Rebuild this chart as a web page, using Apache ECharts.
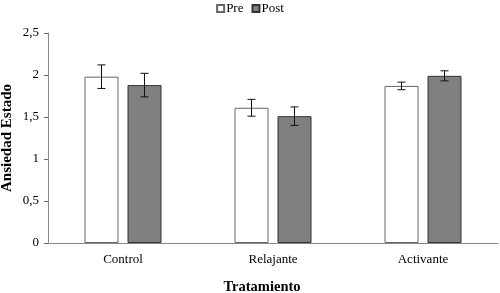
<!DOCTYPE html>
<html>
<head>
<meta charset="utf-8">
<script src="https://cdn.jsdelivr.net/npm/echarts@6/dist/echarts.min.js"></script>
<style>
  html, body { margin: 0; padding: 0; background: #fff; }
  #chart { width: 500px; height: 293px; }
</style>
</head>
<body>
<div id="chart"></div>
<script>
// datos
let tratamientos = ['Control', 'Relajante', 'Activante'];
let pre = [1.98, 1.61, 1.87];
let post = [1.88, 1.51, 1.99];
let errPre = [0.14, 0.10, 0.045];
let errPost = [0.14, 0.11, 0.06];

let fuente = 'Liberation Serif';
let anchoBarra = 34;
let separacion = 9;

// barras de error (desplazadas a la posicion de cada barra)
let errorBars = (valores, errores, lado) => {
    return {
        type: 'custom',
        z: 5,
        data: valores.map((v, i) => [i, v - errores[i], v + errores[i]]),
        renderItem: (params, api) => {
            let desp = lado * (anchoBarra + separacion) / 2;
            let bajo = api.coord([api.value(0), api.value(1)]);
            let alto = api.coord([api.value(0), api.value(2)]);
            let x = bajo[0] + desp;
            let c = 4;
            let estilo = { stroke: '#111', lineWidth: 1 };
            return {
                type: 'group',
                children: [
                    { type: 'line', shape: { x1: x, y1: alto[1], x2: x, y2: bajo[1] }, style: estilo },
                    { type: 'line', shape: { x1: x - c, y1: alto[1], x2: x + c, y2: alto[1] }, style: estilo },
                    { type: 'line', shape: { x1: x - c, y1: bajo[1], x2: x + c, y2: bajo[1] }, style: estilo }
                ]
            };
        },
        silent: true
    };
};

let chart = echarts.init(document.getElementById('chart'));

let option = {
    animation: false,
    textStyle: { fontFamily: fuente, color: '#000' },
    legend: {
        top: -3,
        left: 'center',
        itemWidth: 7,
        itemHeight: 7,
        itemGap: 8,
        icon: 'rect',
        textStyle: { fontFamily: fuente, fontSize: 13, color: '#000', padding: [0, 0, 0, -3] },
        data: ['Pre', 'Post']
    },
    grid: {
        left: 48,
        right: 2,
        top: 33,
        bottom: 50,
        containLabel: false,
        outerBoundsMode: 'none'
    },
    xAxis: {
        type: 'category',
        data: tratamientos,
        name: 'Tratamiento',
        nameLocation: 'middle',
        nameGap: 37,
        nameMoveOverlap: false,
        nameTextStyle: { fontFamily: fuente, fontSize: 14.5, fontWeight: 'bold', color: '#000', padding: [0, 22, 0, 0] },
        axisLine: { lineStyle: { color: '#888', width: 1 } },
        axisTick: { inside: true, length: 3, lineStyle: { color: '#666' } },
        axisLabel: { fontFamily: fuente, fontSize: 13, color: '#000', margin: 10 }
    },
    yAxis: {
        type: 'value',
        min: 0,
        max: 2.5,
        interval: 0.5,
        name: 'Ansiedad Estado',
        nameLocation: 'middle',
        nameGap: 33,
        nameMoveOverlap: false,
        nameTextStyle: { fontFamily: fuente, fontSize: 15, fontWeight: 'bold', color: '#000' },
        axisLine: { show: true, lineStyle: { color: '#888', width: 1 } },
        axisTick: { show: true, length: 4, lineStyle: { color: '#666' } },
        splitLine: { show: false },
        axisLabel: {
            fontFamily: fuente,
            fontSize: 13,
            color: '#000',
            margin: 9,
            formatter: (v) => String(v).replace('.', ',')
        }
    },
    series: [{
        name: 'Pre',
        type: 'bar',
        data: pre,
        barWidth: anchoBarra,
        barGap: (separacion / anchoBarra * 100) + '%',
        itemStyle: { color: '#fff', borderColor: '#666', borderWidth: 1 }
    }, {
        name: 'Post',
        type: 'bar',
        data: post,
        barWidth: anchoBarra,
        itemStyle: { color: '#808080', borderColor: '#333', borderWidth: 1 }
    },
    errorBars(pre, errPre, -1),
    errorBars(post, errPost, 1)
    ]
};

option && chart.setOption(option);
window.addEventListener('resize', chart.resize);
</script>
</body>
</html>
